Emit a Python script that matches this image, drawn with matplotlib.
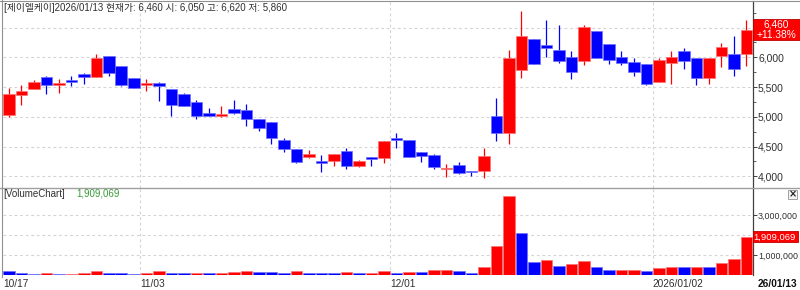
import matplotlib
matplotlib.use("Agg")
import matplotlib.pyplot as plt
from matplotlib.patches import Rectangle
from matplotlib.lines import Line2D
import matplotlib.transforms as mtransforms

plt.rcParams['font.family'] = ['Liberation Sans', 'Noto Sans CJK KR']

name = '제이엘케이'

dates = ['2025/10/17', '2025/10/20', '2025/10/21', '2025/10/22', '2025/10/23', '2025/10/24',
         '2025/10/27', '2025/10/28', '2025/10/29', '2025/10/30', '2025/10/31',
         '2025/11/03', '2025/11/04', '2025/11/05', '2025/11/06', '2025/11/07',
         '2025/11/10', '2025/11/11', '2025/11/12', '2025/11/13', '2025/11/14',
         '2025/11/17', '2025/11/18', '2025/11/19', '2025/11/20', '2025/11/21',
         '2025/11/24', '2025/11/25', '2025/11/26', '2025/11/27', '2025/11/28',
         '2025/12/01', '2025/12/02', '2025/12/03', '2025/12/04', '2025/12/05',
         '2025/12/08', '2025/12/09', '2025/12/10', '2025/12/11', '2025/12/12',
         '2025/12/15', '2025/12/16', '2025/12/17', '2025/12/18', '2025/12/19',
         '2025/12/22', '2025/12/23', '2025/12/24', '2025/12/26', '2025/12/29', '2025/12/30',
         '2026/01/02', '2026/01/05', '2026/01/06', '2026/01/07', '2026/01/08', '2026/01/09',
         '2026/01/12', '2026/01/13']

opens = [5030, 5370, 5470, 5670, 5530, 5620, 5720, 5670, 6020, 5860,
         5660, 5540, 5570, 5470, 5380, 5250, 5070, 5020, 5130, 5110,
         4955, 4905, 4605, 4455, 4325, 4265, 4265, 4425, 4170, 4320,
         4300, 4640, 4610, 4415, 4350, 4120, 4190, 4095, 4090, 5010,
         4720, 5780, 6310, 6200, 6120, 6000, 5940, 6440, 6220, 6000,
         5920, 5880, 5590, 5900, 6100, 5990, 5650, 6020, 6060, 6050]
highs = [5480, 5530, 5620, 5690, 5630, 5690, 5740, 6060, 6020, 5860,
         5660, 5630, 5580, 5470, 5400, 5280, 5150, 5180, 5290, 5210,
         4955, 4905, 4635, 4455, 4440, 4350, 4370, 4475, 4270, 4320,
         4600, 4735, 4610, 4415, 4370, 4200, 4245, 4095, 4480, 5310,
         6120, 6770, 6310, 6620, 6540, 6110, 6540, 6440, 6220, 6110,
         5980, 5880, 5980, 6100, 6160, 5990, 5990, 6240, 6350, 6620]
lows = [5000, 5200, 5470, 5380, 5400, 5510, 5550, 5670, 5690, 5510,
        5490, 5430, 5260, 5010, 5180, 4970, 5010, 4990, 5040, 4840,
        4765, 4550, 4410, 4225, 4305, 4080, 4175, 4130, 4150, 4175,
        4230, 4470, 4330, 4245, 4120, 3995, 4040, 4010, 3965, 4600,
        4535, 5660, 5890, 6000, 5900, 5630, 5870, 5980, 5880, 5870,
        5680, 5530, 5590, 5550, 5810, 5530, 5550, 5840, 5690, 5860]
closes = [5380, 5440, 5580, 5530, 5560, 5590, 5670, 5990, 5740, 5530,
          5490, 5570, 5510, 5200, 5180, 5020, 5020, 5050, 5070, 4970,
          4815, 4635, 4455, 4240, 4370, 4225, 4370, 4170, 4250, 4295,
          4600, 4605, 4330, 4345, 4155, 4145, 4050, 4065, 4335, 4720,
          5990, 6350, 5890, 6160, 5930, 5750, 6510, 5980, 5960, 5900,
          5750, 5550, 5950, 6010, 5940, 5650, 5990, 6170, 5800, 6460]

volumes = [190000, 95000, 75000, 80000, 70000, 75000, 95000, 200000, 100000, 95000,
           70000, 80000, 190000, 100000, 95000, 105000, 80000, 85000, 140000, 190000,
           145000, 140000, 95000, 195000, 95000, 92000, 90000, 145000, 80000, 85000,
           190000, 100000, 146000, 129000, 229000, 235000, 179000, 95000, 380000, 1452000,
           3965000, 2122000, 648000, 765000, 447000, 531000, 698000, 380000, 229000, 240000,
           246000, 179000, 347000, 414000, 380000, 420000, 385000, 598000, 799000, 1909069]

price_ticks = [4000, 4500, 5000, 5500, 6000, 6500]
vol_ticks = [1000000, 2000000, 3000000]

RED = '#ff0000'
BLUE = '#0000ff'
GRID = '#d4d4d4'
TXT = '#303030'

W, H = 800, 290
fig = plt.figure(figsize=(W / 100, H / 100), dpi=100)


def box(x0, y0, x1, y1):
    # pixel box (top-left origin) -> figure fraction rect
    return [x0 / W, 1 - y1 / H, (x1 - x0) / W, (y1 - y0) / H]


axp = fig.add_axes(box(2.5, 1, 752.5, 188))
axv = fig.add_axes(box(2.5, 188, 752.5, 275))

n = len(dates)
x = list(range(n))
bw = 0.92

for ax in (axp, axv):
    ax.set_xlim(-0.5, n - 0.5)
    ax.set_xticks([])
    for s in ('top', 'bottom', 'left'):
        ax.spines[s].set_visible(False)
    ax.spines['right'].set_color('#404040')
    ax.spines['right'].set_linewidth(0.9)
    ax.yaxis.tick_right()
    ax.tick_params(axis='y', direction='out', length=3, width=0.7, color='#404040',
                   labelsize=7.5, labelcolor=TXT, pad=1)
axv.tick_params(axis='y', labelsize=6.4)

# month-change gridlines and labels
label_idx = [i for i in range(1, n) if dates[i][5:7] != dates[i - 1][5:7]]
for i in label_idx:
    for ax in (axp, axv):
        ax.axvline(i - 0.5, color=GRID, lw=0.8, ls=(0, (2.5, 2.5)), zorder=0)

# candles
for i in x:
    o, h, l, c = opens[i], highs[i], lows[i], closes[i]
    col = RED if c >= o else BLUE
    ec = '#ff7070' if c >= o else '#7070ff'
    axp.vlines(i, l, h, color=col, lw=0.9, zorder=2)
    body = max(abs(c - o), 12)
    axp.bar(i, body, bottom=min(o, c), width=bw, color=col, edgecolor=ec, linewidth=0.5, zorder=3)

axp.set_ylim(3803, 6946)
axp.set_yticks(price_ticks)
axp.set_yticklabels(['' if t == 6500 else f'{t:,}' for t in price_ticks])
axp.set_yticks([4250, 4750, 5250, 5750, 6250, 6750], minor=True)
axp.tick_params(axis='y', which='minor', direction='out', length=2, width=0.6, color='#404040')
for t in price_ticks:
    axp.axhline(t, color=GRID, lw=0.8, ls=(0, (2.5, 2.5)), zorder=0)

# volume bars: red when volume rose vs previous day
vcols = [BLUE] + [RED if volumes[i] > volumes[i - 1] else BLUE for i in range(1, n)]
vecs = ['#7070ff' if cc == BLUE else '#ff7070' for cc in vcols]
axv.bar(x, volumes, width=bw, color=vcols, edgecolor=vecs, linewidth=0.5, zorder=3)
axv.set_ylim(0, 4.37e6)
axv.set_yticks(vol_ticks)
# the label hidden under the last-volume box is dropped, as in the HTS chart
axv.set_yticklabels(['' if abs(t - volumes[-1]) < 250000 else f'{t:,}' for t in vol_ticks])
for t in vol_ticks:
    axv.axhline(t, color=GRID, lw=0.8, ls=(0, (2.5, 2.5)), zorder=0)

# frame lines
fig.add_artist(Line2D([0, 1], [1 - 188.3 / H] * 2, color='#a0a0a0', lw=1.0))
fig.add_artist(Line2D([0, 1], [1 - 1.2 / H] * 2, color='#909090', lw=0.8))
fig.add_artist(Line2D([1.5 / W] * 2, [1 - 277 / H, 1], color='#909090', lw=0.8))

# header texts
o, h, l, c = opens[-1], highs[-1], lows[-1], closes[-1]
title = f'[{name}]{dates[-1]} 현재가: {c:,} 시: {o:,} 고: {h:,} 저: {l:,}'
fig.text(3.5 / W, 1 - 8 / H, title, fontsize=7.0, color=TXT, va='center', ha='left')
fig.text(3.5 / W, 1 - 194 / H, '[VolumeChart]', fontsize=7.0, color=TXT, va='center', ha='left')
fig.text(76 / W, 1 - 194 / H, f'{volumes[-1]:,}', fontsize=7.0, color='#3a9a3a', va='center', ha='left')

# close-button
fig.add_artist(Rectangle((788 / W, 1 - 199 / H), 9 / W, 9 / H, fc='#f4f4f4', ec='#a0a0a0', lw=0.7))
fig.text(792.5 / W, 1 - 194.5 / H, '×', fontsize=7, weight='bold', color='#202020', ha='center', va='center',
         family='DejaVu Sans')

# last price / volume boxes on the right axis
fig.canvas.draw()
inv = fig.transFigure.inverted()
yp = inv.transform(axp.transData.transform((0, c)))[1]
chg = (closes[-1] / closes[-2] - 1) * 100
fig.add_artist(Rectangle((753 / W, yp - 10.5 / H), 47 / W, 21 / H, fc=RED, ec='#c00000', lw=0.6))
fig.text(776.5 / W, yp + 5 / H, f'{c:,}', fontsize=7.3, color='white', ha='center', va='center')
fig.text(776.5 / W, yp - 5 / H, f'{chg:+.2f}%', fontsize=7.3, color='white', ha='center', va='center')

yv = inv.transform(axv.transData.transform((0, volumes[-1])))[1]
fig.add_artist(Rectangle((753 / W, yv - 5.5 / H), 45 / W, 11 / H, fc=RED, ec='#c00000', lw=0.6))
fig.text(796 / W, yv, f'{volumes[-1]:,}', fontsize=6.8, color='white', ha='right', va='center')

# date labels
trans = mtransforms.blended_transform_factory(axv.transData, fig.transFigure)
fig.text(3 / W, 1 - 284 / H, dates[0][5:], fontsize=7.3, color=TXT, ha='left', va='center')
for i in label_idx:
    lab = dates[i] if dates[i][:4] != dates[i - 1][:4] else dates[i][5:]
    axv.text(i - 0.5, 1 - 284 / H, lab, transform=trans, fontsize=7.3, color=TXT, ha='left', va='center')
fig.text(797 / W, 1 - 284 / H, dates[-1][2:], fontsize=7.3, color='#101010', weight='bold',
         ha='right', va='center')

fig.savefig('out.png', dpi=100)
